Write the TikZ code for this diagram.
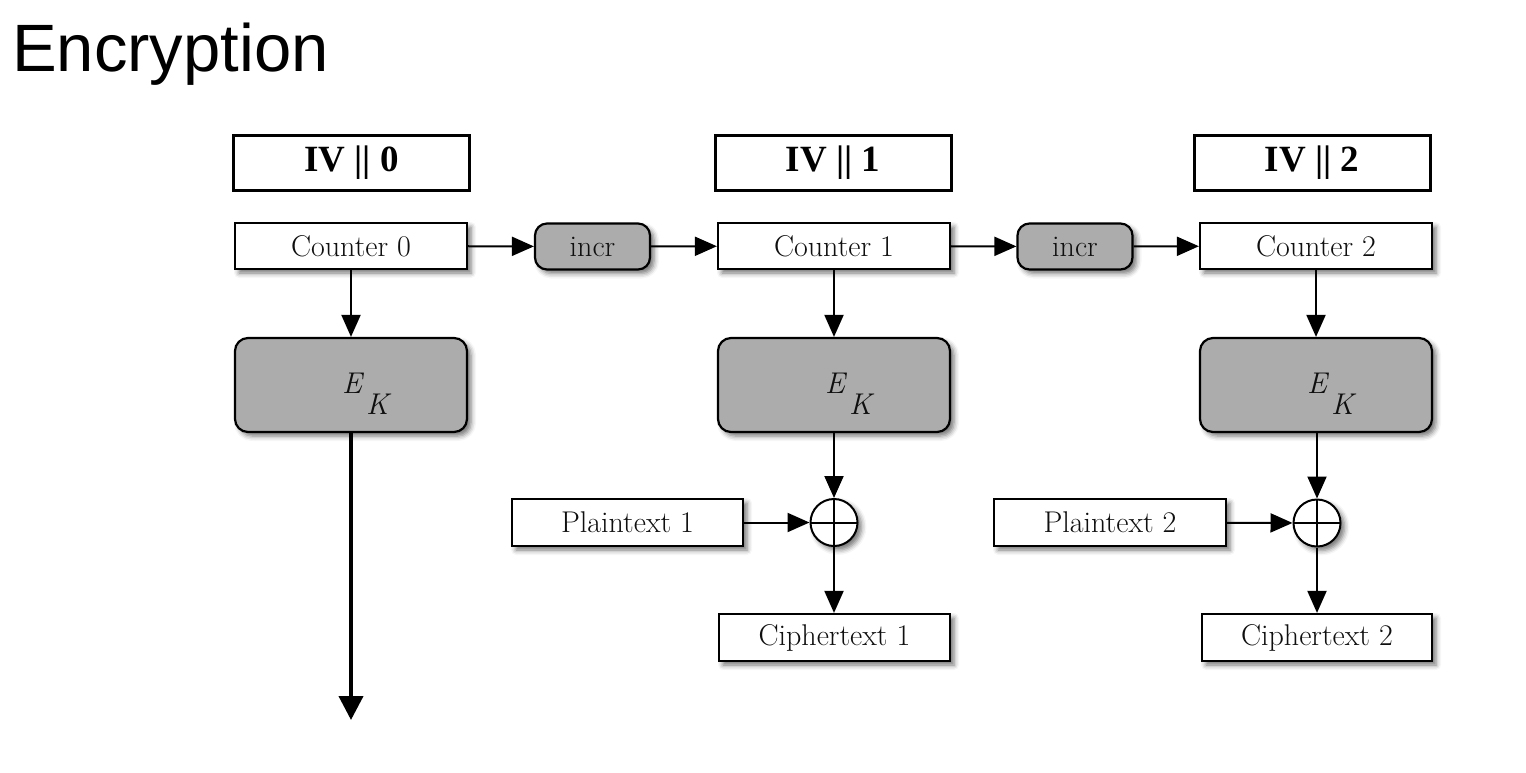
\documentclass[tikz,border=0pt]{standalone}
\usepackage{fontspec}
\newfontfamily\titlefont{Liberation Sans}
\newfontfamily\ivfont{Liberation Serif}
\usetikzlibrary{arrows.meta,shadows.blur}
\definecolor{boxgray}{RGB}{172,172,172}
\definecolor{txt}{RGB}{15,15,15}
\begin{document}
\begin{tikzpicture}[x=1pt,y=-1pt,
  shadowed/.style={blur shadow={shadow xshift=4pt,shadow yshift=-4pt,shadow blur radius=5pt,shadow opacity=55}},
  ivbox/.style={draw,line width=3pt,minimum width=236pt,minimum height=55pt,inner sep=0pt,
    font=\ivfont\bfseries\fontsize{37}{40}\selectfont},
  plainbox/.style={draw,line width=2.2pt,fill=white,minimum height=46pt,inner sep=0pt,shadowed,
    text=txt,font=\fontsize{30}{34}\selectfont},
  incrbox/.style={draw,line width=2.2pt,fill=boxgray,rounded corners=12pt,minimum width=115pt,
    minimum height=46pt,inner sep=0pt,shadowed,text=txt,font=\fontsize{30}{34}\selectfont},
  ekbox/.style={draw,line width=2.2pt,fill=boxgray,rounded corners=13pt,minimum width=232pt,
    minimum height=94pt,inner sep=0pt,shadowed},
  eklabel/.style={anchor=base west,inner sep=0pt,text=txt,font=\fontsize{30}{34}\selectfont\itshape},
  xorc/.style={circle,draw,line width=2pt,fill=white,minimum size=47pt,inner sep=0pt,shadowed,
    path picture={\draw[line width=2pt] (path picture bounding box.north) -- (path picture bounding box.south)
      (path picture bounding box.west) -- (path picture bounding box.east);}},
  arr/.style={line width=2pt,-{Triangle[length=22pt,width=19pt]}},
  bigarr/.style={line width=4pt,-{Triangle[length=24pt,width=24pt]}}
]
\useasboundingbox (0,0) rectangle (1526,772);

\node[anchor=base west,inner sep=0pt,font=\titlefont\fontsize{67}{70}\selectfont] (title) at (12,71) {Encryption};

% IV boxes
\node[ivbox] (iv0) at (351.5,162.5) {IV || 0};
\node[ivbox] (iv1) at (833,162.5) {IV || 1};
\node[ivbox] (iv2) at (1312,162.5) {IV || 2};

% counters
\node[plainbox,minimum width=232pt] (ctr0) at (351,246) {Counter 0};
\node[plainbox,minimum width=232pt] (ctr1) at (834,246) {Counter 1};
\node[plainbox,minimum width=232pt] (ctr2) at (1316,246) {Counter 2};

% incr
\node[incrbox] (inc0) at (592.5,246.5) {incr};
\node[incrbox] (inc1) at (1075,246.5) {incr};

% E_K
\node[ekbox] (ek0) at (351,385) {};
\node[ekbox] (ek1) at (834,385) {};
\node[ekbox] (ek2) at (1316,385) {};
\foreach \n in {0,1,2}{
  \node[eklabel] (e\n) at ([shift={(-9,8)}]ek\n.center) {E};
  \node[eklabel] (k\n) at ([shift={(15,29)}]ek\n.center) {K};
}

% xor
\node[xorc] (x1) at (834,522.5) {};
\node[xorc] (x2) at (1317,523) {};

% plaintext / ciphertext
\node[plainbox,minimum width=231pt,minimum height=47pt] (pt1) at (627.5,522.5) {Plaintext 1};
\node[plainbox,minimum width=232pt,minimum height=47pt] (pt2) at (1110,522.5) {Plaintext 2};
\node[plainbox,minimum width=231pt,minimum height=47pt] (ct1) at (834.5,637.5) {Ciphertext 1};
\node[plainbox,minimum width=230pt,minimum height=47pt] (ct2) at (1317,637.5) {Ciphertext 2};

% connectors
\draw[arr] (ctr0) -- (inc0);
\draw[arr] (inc0) -- (ctr1);
\draw[arr] (ctr1) -- (inc1);
\draw[arr] (inc1) -- (ctr2);
\draw[arr] (ctr0) -- (ek0);
\draw[arr] (ctr1) -- (ek1);
\draw[arr] (ctr2) -- (ek2);
\draw[arr] (ek1) -- (x1);
\draw[arr] (ek2.south -| x2) -- (x2);
\draw[arr] (pt1) -- (x1);
\draw[arr] (pt2) -- (x2);
\draw[arr] (x1) -- (ct1.north -| x1);
\draw[arr] (x2) -- (ct2);
\coordinate (out0) at (351,720);
\draw[bigarr] (ek0.south) -- (out0);
\end{tikzpicture}
\end{document}
